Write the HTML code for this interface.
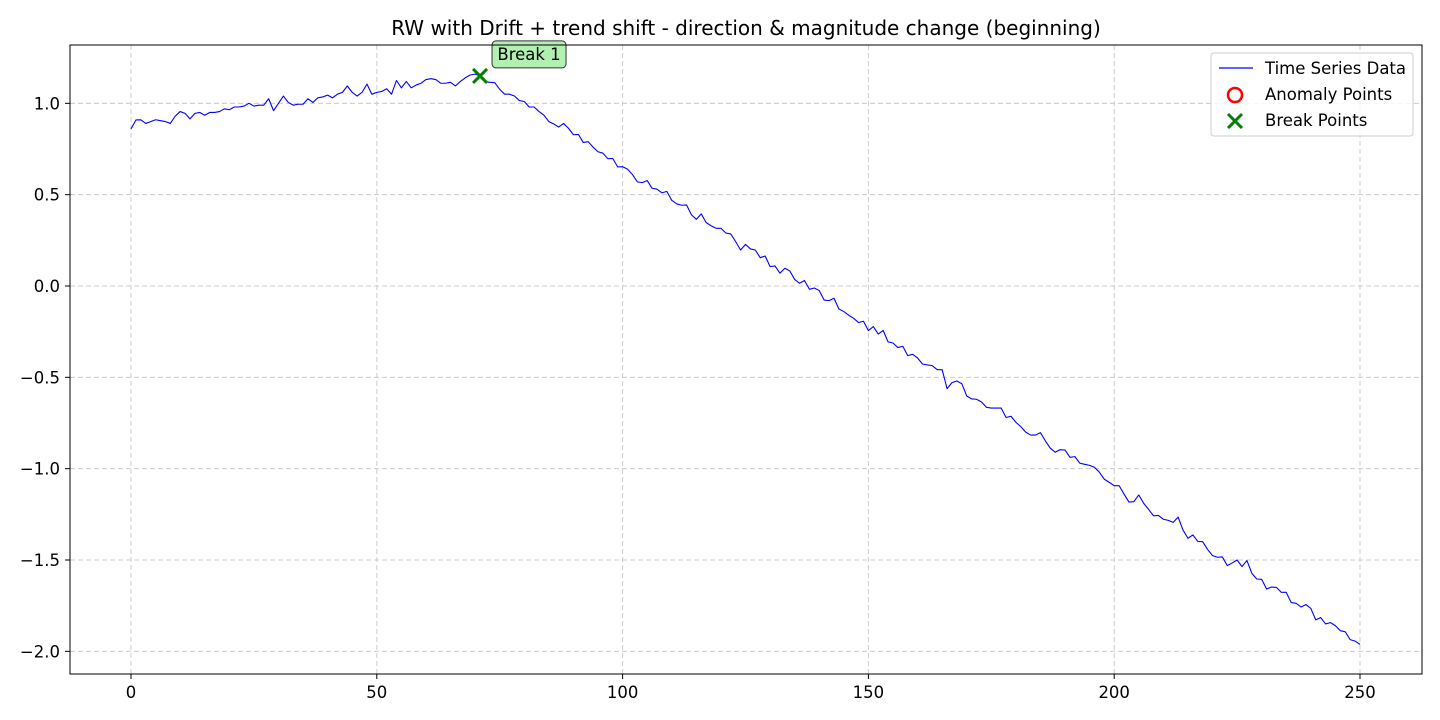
<!DOCTYPE html>
<html><head><meta charset="utf-8"><style>
html,body{margin:0;padding:0;background:#fff;}
svg{display:block;font-family:"DejaVu Sans","Liberation Sans",sans-serif;}
</style></head><body>
<svg id="chart" width="1440" height="720" viewBox="0 0 1440 720">
<rect x="0" y="0" width="1440" height="720" fill="#fff"/>
<text x="746" y="35" text-anchor="middle" font-size="20" fill="#000">RW with Drift + trend shift - direction &amp; magnitude change (beginning)</text>
<g id="grid"></g>
<g id="axes"></g>
<g id="series"></g>
<rect x="70" y="45" width="1352" height="629" fill="none" stroke="#000" stroke-width="1"/>
<g id="legend">
<rect x="1211" y="53" width="202" height="83" rx="3" fill="#fff" fill-opacity="0.8" stroke="#ccc"/>
<g>
<line x1="1219" y1="68" x2="1253" y2="68" stroke="#0000ff" stroke-width="1.2"/>
<text x="1265" y="74" font-size="16.5">Time Series Data</text></g>
<g>
<circle cx="1235" cy="95" r="7" fill="none" stroke="#ff0000" stroke-width="2.5"/>
<text x="1265" y="100" font-size="16.5">Anomaly Points</text></g>
<g>
<path d="M1228,114 L1242,128 M1242,114 L1228,128" stroke="#008000" stroke-width="3"/>
<text x="1265" y="126" font-size="16.5">Break Points</text></g>
</g>
</svg>
<script>
const xTicks = [0, 50, 100, 150, 200, 250];
const yTicks = [1.0, 0.5, 0.0, -0.5, -1.0, -1.5, -2.0];
const yTickLabels = ["1.0", "0.5", "0.0", "\u22120.5", "\u22121.0", "\u22121.5", "\u22122.0"];
const seriesValues = [0.86,0.909,0.91,0.89,0.90,0.91,0.905,0.90,0.89,0.93,0.955,0.945,0.915,0.945,0.95,0.935,0.95,0.95,0.955,0.97,
0.965,0.98,0.98,0.985,1.0,0.985,0.99,0.99,1.025,0.96,1.0,1.04,1.005,0.99,0.995,0.995,1.025,1.005,1.03,1.035,
1.045,1.03,1.05,1.06,1.095,1.06,1.04,1.06,1.105,1.05,1.06,1.065,1.08,1.05,1.125,1.085,1.12,1.085,1.10,1.11,
1.13,1.135,1.13,1.11,1.11,1.115,1.095,1.12,1.14,1.155,1.16,1.15,1.118,1.115,1.113,1.077,1.05,1.05,1.04,1.015,
1.01,0.98,0.98,0.955,0.935,0.90,0.887,0.87,0.89,0.863,0.828,0.83,0.786,0.79,0.76,0.735,0.727,0.697,0.698,0.652,
0.653,0.64,0.61,0.57,0.566,0.577,0.535,0.53,0.51,0.518,0.469,0.45,0.442,0.444,0.39,0.365,0.395,0.347,0.33,0.316,
0.316,0.29,0.285,0.243,0.197,0.228,0.203,0.197,0.155,0.164,0.106,0.11,0.07,0.097,0.083,0.036,0.015,0.03,-0.018,-0.011,
-0.025,-0.077,-0.08,-0.067,-0.126,-0.14,-0.16,-0.177,-0.2,-0.193,-0.244,-0.222,-0.263,-0.243,-0.306,-0.312,-0.337,-0.33,-0.381,-0.374,
-0.394,-0.427,-0.432,-0.436,-0.458,-0.458,-0.562,-0.529,-0.52,-0.535,-0.602,-0.618,-0.62,-0.635,-0.664,-0.668,-0.668,-0.668,-0.72,-0.713,
-0.746,-0.77,-0.8,-0.816,-0.816,-0.803,-0.848,-0.888,-0.91,-0.896,-0.898,-0.938,-0.934,-0.97,-0.976,-0.982,-0.993,-1.02,-1.058,-1.075,
-1.093,-1.093,-1.139,-1.183,-1.181,-1.144,-1.19,-1.223,-1.258,-1.256,-1.277,-1.283,-1.294,-1.265,-1.336,-1.381,-1.363,-1.398,-1.4,-1.442,
-1.476,-1.485,-1.483,-1.531,-1.516,-1.5,-1.536,-1.503,-1.573,-1.604,-1.606,-1.659,-1.648,-1.65,-1.677,-1.677,-1.733,-1.737,-1.757,-1.744,
-1.765,-1.828,-1.815,-1.85,-1.843,-1.86,-1.887,-1.893,-1.936,-1.944,-1.962];
const breakIndices = [71];
const breakLabels = ["Break 1"];

const NS = "http://www.w3.org/2000/svg";
function xScale(v){ return 131 + (v - 0) * (1360 - 131) / 250; }
function yScale(v){ return 286 - v * (652 - 104) / 3; }
function mk(tag, attrs, parent){ const e = document.createElementNS(NS, tag); for (const k in attrs) e.setAttribute(k, attrs[k]); parent.appendChild(e); return e; }

const grid = document.getElementById('grid');
const axes = document.getElementById('axes');
const series = document.getElementById('series');

xTicks.forEach(t => {
  const x = xScale(t);
  const gl = mk('line', {x1:x, y1:45, x2:x, y2:674, stroke:'#cccccc', 'stroke-dasharray':'5,3', 'stroke-width':1}, grid);
  
  
  const tk = mk('line', {x1:x, y1:674, x2:x, y2:679, stroke:'#000'}, axes);
  
  
  const lb = mk('text', {x:x, y:698, 'text-anchor':'middle', 'font-size':16.5}, axes);
  lb.textContent = String(t);
  
  
});
yTicks.forEach((t, i) => {
  const y = yScale(t);
  const gl = mk('line', {x1:70, y1:y, x2:1422, y2:y, stroke:'#cccccc', 'stroke-dasharray':'5,3', 'stroke-width':1}, grid);
  
  
  const tk = mk('line', {x1:65, y1:y, x2:70, y2:y, stroke:'#000'}, axes);
  
  
  const lb = mk('text', {x:60, y:y+6, 'text-anchor':'end', 'font-size':16.5}, axes);
  lb.textContent = yTickLabels[i];
  
  
});

const pts = seriesValues.map((v, i) => xScale(i).toFixed(2) + ',' + yScale(v).toFixed(2)).join(' ');
const line = mk('polyline', {points:pts, fill:'none', stroke:'#0000ff', 'stroke-width':1.1, 'stroke-linejoin':'round'}, series);



breakIndices.forEach((bi, k) => {
  const x = xScale(bi), y = yScale(seriesValues[bi]);
  const m = mk('path', {d:`M${x-7},${y-7} L${x+7},${y+7} M${x+7},${y-7} L${x-7},${y+7}`, stroke:'#008000', 'stroke-width':3}, series);
  
  
  const box = mk('rect', {x:x+12, y:y-35, width:74, height:27, rx:4, fill:'#b2f0b2', stroke:'#333', 'stroke-width':1}, series);
  
  
  const tx = mk('text', {x:x+49, y:y-16, 'text-anchor':'middle', 'font-size':16.5}, series);
  tx.textContent = breakLabels[k];
  
  
});
</script>
</body></html>
